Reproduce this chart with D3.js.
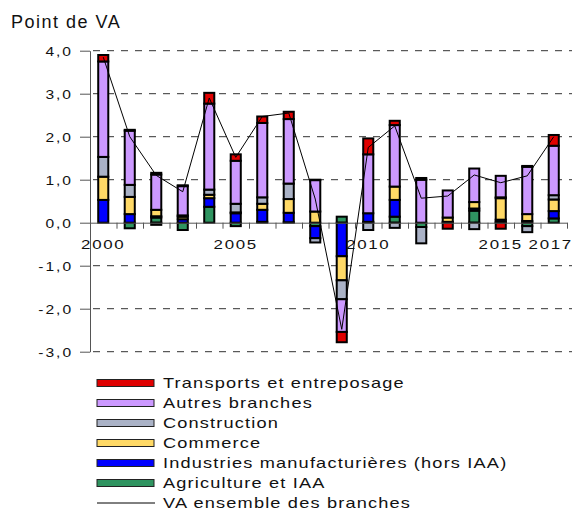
<!DOCTYPE html>
<html>
<head>
<meta charset="utf-8">
<script src="https://cdn.jsdelivr.net/npm/d3@7"></script>
<style>
  body { margin: 0; background: #fff; }
  svg { display: block; font-family: "Liberation Sans", Arial, sans-serif; }
</style>
</head>
<body>
<svg id="chart" width="576" height="510"></svg>
<script>
    // Data (points of value added)
    const years = d3.range(2000, 2018);
    const agriculture  = [0.00, -0.13, 0.12, -0.17, 0.37, -0.08, 0.02, 0.01, -0.08, 0.14, 0.02, 0.14, -0.10, 0.00, 0.28, 0.02, -0.08, 0.10];
    const industries   = [0.53, 0.20, 0.03, 0.08, 0.20, 0.22, 0.28, 0.22, -0.28, -0.78, 0.20, 0.39, 0.00, 0.02, 0.05, 0.05, 0.04, 0.17];
    const commerce     = [0.54, 0.40, 0.15, 0.06, 0.08, 0.02, 0.14, 0.32, 0.26, -0.56, 0.00, 0.31, 0.00, 0.10, 0.15, 0.50, 0.16, 0.27];
    const construction = [0.46, 0.28, -0.05, 0.03, 0.12, 0.20, 0.15, 0.36, -0.10, -0.44, -0.17, -0.12, -0.38, 0.00, -0.15, 0.02, -0.14, 0.10];
    const autres       = [2.22, 1.26, 0.82, 0.68, 2.00, 1.00, 1.73, 1.50, 0.73, -0.76, 1.37, 1.43, 1.00, 0.63, 0.78, 0.50, 1.10, 1.15];
    const transports   = [0.15, 0.02, 0.04, 0.02, 0.25, 0.15, 0.15, 0.17, 0.01, -0.24, 0.37, 0.10, 0.04, -0.14, 0.00, -0.14, 0.02, 0.25];
    const total        = [3.85, 2.00, 1.10, 0.72, 2.90, 1.52, 2.47, 2.55, 0.55, -2.48, 1.75, 2.25, 0.57, 0.62, 1.11, 0.93, 1.09, 2.00];
    const yTicks = [-3, -2, -1, 0, 1, 2, 3, 4];
    const yearLabels = [2000, 2005, 2010, 2015, 2017];

    // series in stacking order (bottom to top)
    const series = [
        {key: "agri",   name: "Agriculture et IAA", values: agriculture, color: "#2f9460"},
        {key: "indus",  name: "Industries manufacturières (hors IAA)", values: industries, color: "#0000ff"},
        {key: "comm",   name: "Commerce", values: commerce, color: "#ffd966"},
        {key: "constr", name: "Construction", values: construction, color: "#aab2c6"},
        {key: "autres", name: "Autres branches", values: autres, color: "#cc99ff"},
        {key: "transp", name: "Transports et entreposage", values: transports, color: "#e00000"}
    ];

    const rows = years.map((yr, i) => {
        const r = {year: yr};
        series.forEach(s => r[s.key] = s.values[i]);
        return r;
    });

    const svg = d3.select("#chart");

    const x = d3.scaleBand()
        .domain(years)
        .range([90, 567])
        .paddingInner(0.62)
        .paddingOuter(0.31);

    // boundaries between years for the small ticks on the x axis
    const xb = d3.scaleLinear().domain([0, years.length]).range([90, 567]);

    const y = d3.scaleLinear()
        .domain([-3, 4])
        .range([351.7, 50.7]);

    // dashed grid lines
    svg.append("g")
        .selectAll("line")
        .data(yTicks.filter(d => d !== 0))
        .enter()
        .append("line")
        .attr("x1", 93)
        .attr("x2", 572)
        .attr("y1", d => y(d))
        .attr("y2", d => y(d))
        .attr("stroke", "#333")
        .attr("stroke-dasharray", "7,7");

    // stacked bars
    const stack = d3.stack()
        .keys(series.map(s => s.key))
        .offset(d3.stackOffsetDiverging);
    const stacked = stack(rows);

    svg.append("g")
        .selectAll("g")
        .data(stacked)
        .enter()
        .append("g")
        .attr("fill", (d, i) => series[i].color)
        .selectAll("rect")
        .data(d => d)
        .enter()
        .append("rect")
        .attr("x", d => x(d.data.year))
        .attr("width", x.bandwidth())
        .attr("y", d => y(Math.max(d[0], d[1])))
        .attr("height", d => Math.abs(y(d[0]) - y(d[1])))
        .attr("stroke", "#000")
        .attr("stroke-width", 2);

    // x axis along zero
    const xAxis = svg.append("g")
        .attr("transform", `translate(0, ${y(0)})`)
        .call(d3.axisBottom(xb).tickValues(d3.range(1, years.length + 1)).tickSize(6).tickSizeOuter(0).tickFormat(""));
    xAxis.select(".domain").attr("stroke", "#555");
    xAxis.selectAll(".tick line").attr("stroke", "#555");

    // y axis
    const yAxis = svg.append("g")
        .attr("transform", "translate(90, 0)")
        .call(d3.axisLeft(y).tickValues(yTicks).tickSize(10).tickSizeOuter(0)
            .tickFormat(d => d.toFixed(1).replace(".", ",")));
    yAxis.select(".domain").attr("stroke", "#555");
    yAxis.selectAll(".tick line").attr("stroke", "#555");
    yAxis.selectAll(".tick text")
        .attr("x", 0)
        .attr("dy", "0.36em")
        .attr("font-size", 12)
        .attr("letter-spacing", 1.5)
        .attr("fill", "#111")
        .attr("font-family", "Liberation Sans, Arial, sans-serif")
        .attr("transform", "translate(-17,0) scale(1.3,1)");

    // total VA line
    const line = d3.line()
        .x((d, i) => x(years[i]) + x.bandwidth() / 2)
        .y(d => y(d));
    svg.append("path")
        .datum(total)
        .attr("d", line)
        .attr("fill", "none")
        .attr("stroke", "#000")
        .attr("stroke-width", 1);

    // year labels
    svg.append("g")
        .selectAll("text")
        .data(yearLabels)
        .enter()
        .append("text")
        .attr("transform", d => `translate(${x(d) + x.bandwidth() / 2 - (d === 2017 ? 3 : 0)}, 249) scale(1.3,1)`)
        .attr("text-anchor", "middle")
        .attr("font-size", 13)
        .attr("letter-spacing", 1.3)
        .attr("fill", "#111")
        .text(d => d);

    // title
    svg.append("text")
        .attr("x", 11)
        .attr("y", 28)
        .attr("font-size", 18)
        .attr("letter-spacing", 1.5)
        .attr("fill", "#111")
        .text("Point de VA");

    // legend
    const legendItems = series.slice().reverse();
    const legend = svg.append("g");
    legendItems.forEach((s, i) => {
        const ly = 383 + i * 20;
        legend.append("rect")
            .attr("x", 97).attr("y", ly - 3.5)
            .attr("width", 57).attr("height", 7)
            .attr("fill", s.color)
            .attr("stroke", "#222")
            .attr("stroke-width", 1);
        legend.append("text")
            .attr("transform", `translate(163, ${ly + 5}) scale(1.3,1)`)
            .attr("font-size", 14)
            .attr("letter-spacing", 0.9)
            .attr("fill", "#111")
            .text(s.name);
    });
    const lastY = 383 + legendItems.length * 20;
    legend.append("line")
        .attr("x1", 97).attr("x2", 155)
        .attr("y1", lastY).attr("y2", lastY)
        .attr("stroke", "#000");
    legend.append("text")
        .attr("transform", `translate(163, ${lastY + 5}) scale(1.3,1)`)
        .attr("font-size", 14)
        .attr("letter-spacing", 0.9)
        .attr("fill", "#111")
        .text("VA ensemble des branches");
</script>
</body>
</html>
